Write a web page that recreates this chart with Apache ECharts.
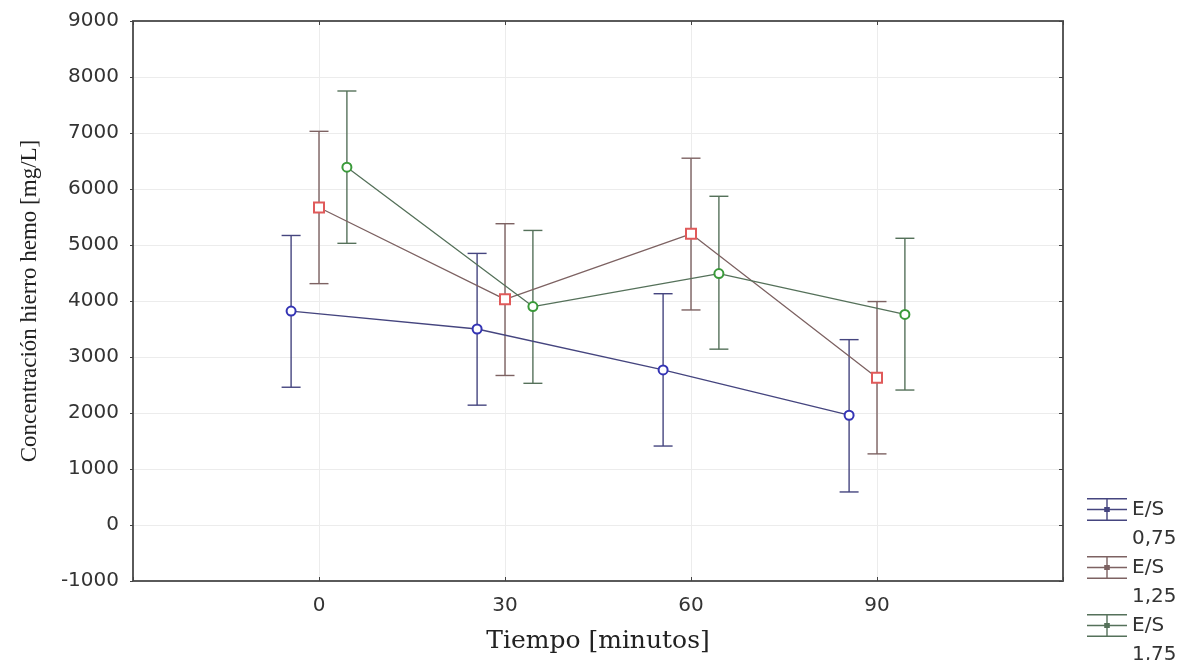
<!DOCTYPE html>
<html>
<head>
<meta charset="utf-8">
<script src="https://cdn.jsdelivr.net/npm/echarts@6/dist/echarts.min.js"></script>
<style>
  html, body { margin: 0; padding: 0; background: #fff; }
  #chart { width: 1188px; height: 660px; }
</style>
</head>
<body>
<div id="chart"></div>
<script>
// time points (minutes)
const tiempos = [0, 30, 60, 90]
const seriesNames = ['E/S\n0,75', 'E/S\n1,25', 'E/S\n1,75']

// means and confidence-interval bounds
const media075 = [3820, 3500, 2770, 1960]
const bajo075 = [2460, 2140, 1410, 590]
const alto075 = [5170, 4850, 4130, 3310]

const media125 = [5670, 4030, 5200, 2630]
const bajo125 = [4310, 2670, 3840, 1270]
const alto125 = [7030, 5380, 6550, 3990]

const media175 = [6390, 3900, 4490, 3760]
const bajo175 = [5030, 2530, 3140, 2410]
const alto175 = [7750, 5260, 5870, 5120]

const yTicks = { min: -1000, max: 9000, step: 1000 }

// small horizontal dodge so the groups don't overlap
const dodge = [-4.5, 0, 4.5]

const marker = ['emptyCircle', 'emptyRect', 'emptyCircle']
const markerColor = ['#3434b4', '#e05a5a', '#3a9a3a']
const lineColor = ['#45457f', '#7d6262', '#55715a']

const groups = [
  { media: media075, bajo: bajo075, alto: alto075 },
  { media: media125, bajo: bajo125, alto: alto125 },
  { media: media175, bajo: bajo175, alto: alto175 }
]

// error-bar glyph in the top part of a 40x58 box (tiny dots pin the box) so it sits next to the first text line
const legendIcon = 'path://M0 3H40V4.5H0Z M0 13.8H40V15.3H0Z M0 24.5H40V26H0Z M19.3 3H20.7V26H19.3Z M17.2 12H22.8V17H17.2Z M20 57.98H20.02V58H20Z M20 0H20.02V0.02H20Z'

const chart = echarts.init(document.getElementById('chart'))

const series = []
groups.forEach((g, i) => {
  series.push({
    name: seriesNames[i],
    type: 'line',
    z: 3,
    data: tiempos.map((t, k) => [t + dodge[i], g.media[k]]),
    symbol: marker[i],
    symbolSize: i === 1 ? 10 : 9,
    lineStyle: { color: lineColor[i], width: 1.3 },
    itemStyle: { color: markerColor[i], borderWidth: 1.6 },
    emphasis: { disabled: true }
  })
  series.push({
    name: seriesNames[i] + ' err',
    type: 'custom',
    z: 2,
    data: tiempos.map((t, k) => [t + dodge[i], g.bajo[k], g.alto[k]]),
    renderItem: (params, api) => {
      const lo = api.coord([api.value(0), api.value(1)])
      const hi = api.coord([api.value(0), api.value(2)])
      const w = 9.5
      const st = { stroke: lineColor[i], lineWidth: 1.4 }
      return {
        type: 'group',
        children: [
          { type: 'line', shape: { x1: lo[0], y1: lo[1], x2: hi[0], y2: hi[1] }, style: st },
          { type: 'line', shape: { x1: lo[0] - w, y1: lo[1], x2: lo[0] + w, y2: lo[1] }, style: st },
          { type: 'line', shape: { x1: hi[0] - w, y1: hi[1], x2: hi[0] + w, y2: hi[1] }, style: st }
        ]
      }
    }
  })
})

const axisLine = { show: true, onZero: false, lineStyle: { color: '#5a5a5a', width: 2 } }
const faintGrid = { show: true, lineStyle: { color: '#ececec', width: 1 } }
const tickFont = { fontFamily: 'DejaVu Sans', fontSize: 20, color: '#333' }

chart.setOption({
  animation: false,
  grid: { left: 133, right: 125, top: 21, bottom: 79 },
  legend: {
    orient: 'vertical',
    left: 1082,
    top: 490,
    height: 200,
    itemWidth: 40,
    itemHeight: 58,
    itemGap: 0,
    selectedMode: false,
    data: groups.map((g, i) => ({
      name: seriesNames[i],
      icon: legendIcon,
      itemStyle: { color: lineColor[i] }
    })),
    textStyle: {
      fontFamily: 'DejaVu Sans',
      fontSize: 20,
      lineHeight: 29,
      color: '#333'
    }
  },
  xAxis: [
    {
      type: 'value',
      min: -30,
      max: 120,
      interval: 30,
      axisLine: axisLine,
      axisTick: { show: true, inside: true, length: 4, lineStyle: { color: '#444' } },
      splitLine: faintGrid,
      axisLabel: Object.assign({}, tickFont, {
        margin: 15,
        formatter: v => (v < 0 || v > 90 ? '' : String(v))
      }),
      name: 'Tiempo [minutos]',
      nameLocation: 'middle',
      nameGap: 48,
      nameTextStyle: { fontFamily: 'DejaVu Serif', fontSize: 25, color: '#222' }
    },
    {
      type: 'value',
      position: 'top',
      min: -30,
      max: 120,
      interval: 30,
      axisLine: axisLine,
      axisTick: { show: true, inside: true, length: 4, lineStyle: { color: '#444' } },
      axisLabel: { show: false },
      splitLine: { show: false }
    }
  ],
  yAxis: [
    {
      type: 'value',
      min: yTicks.min,
      max: yTicks.max,
      interval: yTicks.step,
      axisLine: axisLine,
      axisTick: { show: true, length: 3, lineStyle: { color: '#444' } },
      splitLine: faintGrid,
      axisLabel: Object.assign({}, tickFont, {
        margin: 14,
        formatter: v => String(v)
      }),
      name: 'Concentración hierro hemo [mg/L]',
      nameLocation: 'middle',
      nameGap: 92,
      nameTextStyle: { fontFamily: 'Liberation Serif', fontSize: 23, color: '#222' }
    },
    {
      type: 'value',
      position: 'right',
      min: yTicks.min,
      max: yTicks.max,
      interval: yTicks.step,
      axisLine: axisLine,
      axisTick: { show: true, inside: true, length: 4, lineStyle: { color: '#444' } },
      axisLabel: { show: false },
      splitLine: { show: false }
    }
  ],
  series: series
})

window.addEventListener('resize', () => chart.resize())
</script>
</body>
</html>
